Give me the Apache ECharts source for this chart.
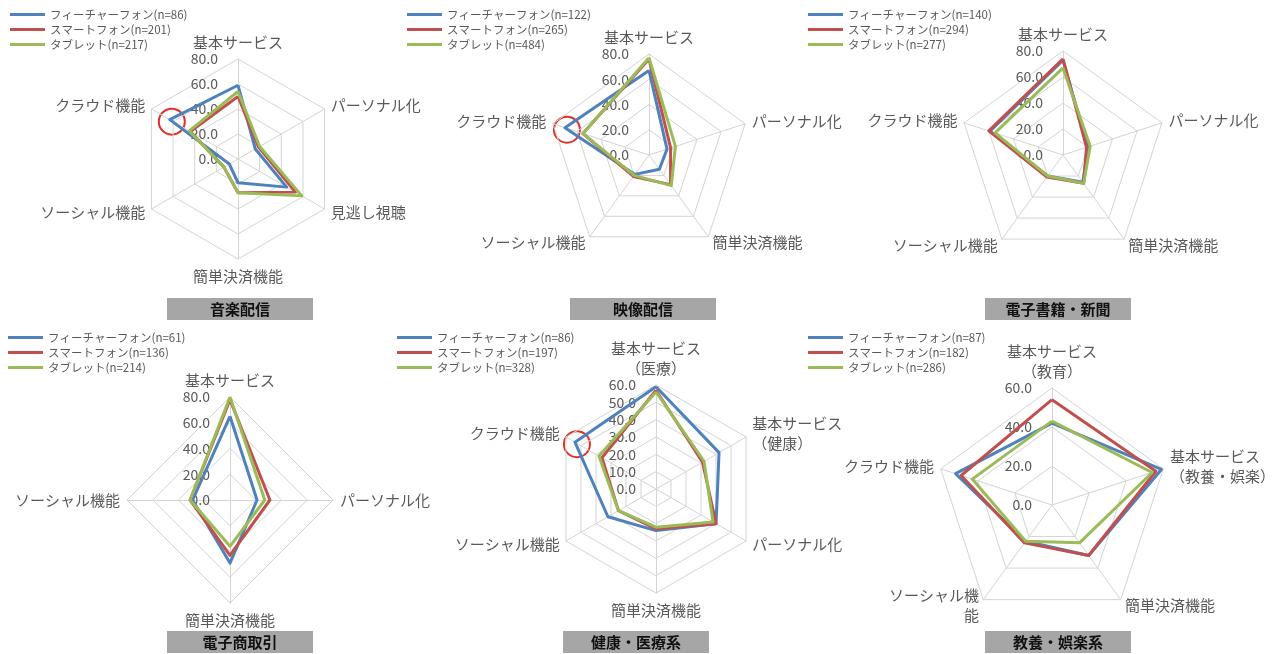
<!DOCTYPE html>
<html>
<head>
<meta charset="utf-8">
<script src="https://cdn.jsdelivr.net/npm/echarts@6/dist/echarts.min.js"></script>
<style>
html, body { margin: 0; padding: 0; background: #fff; }
#main { width: 1275px; height: 654px; }
</style>
</head>
<body>
<div id="main"></div>
<script>
const FONT = '"Noto Sans CJK JP", "Noto Sans", sans-serif';
const seriesColors = ['#4F81BD', '#C0504D', '#9BBB59'];

// 軸は上から時計回りの順
// 音楽配信
const musicAxes = ['基本サービス', 'パーソナル化', '見逃し視聴', '簡単決済機能', 'ソーシャル機能', 'クラウド機能'];
const musicNames = ['フィーチャーフォン(n=86)', 'スマートフォン(n=201)', 'タブレット(n=217)'];
const musicFeature = [59, 16, 45, 19, 8, 63];
const musicSmart = [50, 19, 53, 27, 13, 44];
const musicTablet = [54, 20, 59, 27, 13, 45];

// 映像配信
const videoAxes = ['基本サービス', 'パーソナル化', '簡単決済機能', 'ソーシャル機能', 'クラウド機能'];
const videoNames = ['フィーチャーフォン(n=122)', 'スマートフォン(n=265)', 'タブレット(n=484)'];
const videoFeature = [67, 15, 14, 19, 70];
const videoSmart = [76, 18, 29, 21, 55];
const videoTablet = [77, 22, 30, 20, 55];

// 電子書籍・新聞
const bookAxes = ['基本サービス', 'パーソナル化', '簡単決済機能', 'ソーシャル機能', 'クラウド機能'];
const bookNames = ['フィーチャーフォン(n=140)', 'スマートフォン(n=294)', 'タブレット(n=277)'];
const bookFeature = [73, 20, 26, 20, 59];
const bookSmart = [74, 19, 27, 21, 60];
const bookTablet = [67, 22, 27, 20, 55];

// 電子商取引
const ecAxes = ['基本サービス', 'パーソナル化', '簡単決済機能', 'ソーシャル機能'];
const ecNames = ['フィーチャーフォン(n=61)', 'スマートフォン(n=136)', 'タブレット(n=214)'];
const ecFeature = [65, 21, 49, 29];
const ecSmart = [78, 31, 43, 31];
const ecTablet = [80, 27, 36, 31];

// 健康・医療系
const healthAxes = ['基本サービス\n（医療）', '基本サービス\n（健康）', 'パーソナル化', '簡単決済機能', 'ソーシャル機能', 'クラウド機能'];
const healthNames = ['フィーチャーフォン(n=86)', 'スマートフォン(n=197)', 'タブレット(n=328)'];
const healthFeature = [59, 42, 40, 24, 32, 54];
const healthSmart = [57, 31, 40, 23, 25, 36];
const healthTablet = [56, 32, 38, 22, 25, 38];

// 教養・娯楽系
const eduAxes = ['基本サービス\n（教育）', '基本サービス\n（教養・娯楽）', '簡単決済機能', 'ソーシャル機\n能', 'クラウド機能'];
const eduNames = ['フィーチャーフォン(n=87)', 'スマートフォン(n=182)', 'タブレット(n=286)'];
const eduFeature = [42, 59, 32, 23, 52];
const eduSmart = [54, 56, 32, 24, 49];
const eduTablet = [43, 54, 24, 23, 43];

const panels = [
    { title: '音楽配信', axes: musicAxes, names: musicNames, values: [musicFeature, musicSmart, musicTablet],
      max: 80, split: 4, center: [238, 159], radius: 100, legend: [10, 8], box: [167, 298], mark: true },
    { title: '映像配信', axes: videoAxes, names: videoNames, values: [videoFeature, videoSmart, videoTablet],
      max: 80, split: 4, center: [649, 155], radius: 101, legend: [407, 8], box: [570, 298], mark: true },
    { title: '電子書籍・新聞', axes: bookAxes, names: bookNames, values: [bookFeature, bookSmart, bookTablet],
      max: 80, split: 4, center: [1063, 155], radius: 104, legend: [808, 8], box: [985, 298], mark: false },
    { title: '電子商取引', axes: ecAxes, names: ecNames, values: [ecFeature, ecSmart, ecTablet],
      max: 80, split: 4, center: [230, 500], radius: 103, legend: [8, 331], box: [167, 631], mark: false },
    { title: '健康・医療系', axes: healthAxes, names: healthNames, values: [healthFeature, healthSmart, healthTablet],
      max: 60, split: 6, center: [656, 489], radius: 104, legend: [397, 331], box: [563, 631], mark: true },
    { title: '教養・娯楽系', axes: eduAxes, names: eduNames, values: [eduFeature, eduSmart, eduTablet],
      max: 60, split: 3, center: [1052, 505], radius: 117, legend: [808, 331], box: [985, 631], mark: false }
];

// ECharts のレーダーは反時計回りなので並びを変える
function toEchartsOrder(arr) {
    return [arr[0]].concat(arr.slice(1).reverse());
}

const radar = [];
const series = [];
const legend = [];
const graphic = [];

panels.forEach(function(p, idx) {
    const indicators = toEchartsOrder(p.axes).map(function(name, i) {
        const ind = { name: name, max: p.max, min: 0 };
        if (i === 0) ind.axisLabel = { show: true };
        return ind;
    });
    radar.push({
        center: p.center,
        radius: p.radius,
        startAngle: 90,
        splitNumber: p.split,
        shape: 'polygon',
        nameGap: 7,
        indicator: indicators,
        axisName: { color: '#595959', fontSize: 15, fontFamily: FONT, lineHeight: 20 },
        axisLabel: {
            show: false,
            margin: 20,
            color: '#595959',
            fontSize: 14,
            fontFamily: FONT,
            formatter: function(v) { return v.toFixed(1); }
        },
        axisTick: { show: false },
        axisLine: { lineStyle: { color: '#d4d4d4', width: 1 } },
        splitLine: { lineStyle: { color: '#d4d4d4', width: 1 } },
        splitArea: { show: false }
    });
    // 描画順: フィーチャーフォン → スマートフォン → タブレット（後ろが上に重なる）
    series.push({
        type: 'radar',
        radarIndex: idx,
        symbol: 'none',
        silent: true,
        data: p.values.map(function(vals, k) {
            return {
                name: p.names[k],
                value: toEchartsOrder(vals),
                lineStyle: { color: seriesColors[k], width: 3 },
                itemStyle: { color: seriesColors[k] }
            };
        })
    });
    legend.push({
        orient: 'vertical',
        left: p.legend[0],
        top: p.legend[1],
        padding: 0,
        itemGap: 2,
        itemWidth: 35,
        itemHeight: 3,
        icon: 'rect',
        selectedMode: false,
        data: p.names,
        textStyle: { color: '#595959', fontSize: 11.5, fontFamily: FONT, lineHeight: 13 }
    });
    // タイトルの箱
    graphic.push({
        type: 'group',
        silent: true,
        children: [
            { type: 'rect', shape: { x: p.box[0], y: p.box[1], width: 146, height: 22 }, style: { fill: '#a6a6a6' } },
            { type: 'text', style: { text: p.title, x: p.box[0] + 73, y: p.box[1] + 11, align: 'center', verticalAlign: 'middle',
                font: 'bold 15px ' + FONT, fill: '#111' } }
        ]
    });
    // クラウド機能のフィーチャーフォン値を赤丸で強調
    if (p.mark) {
        const n = p.axes.length;
        const cloud = p.values[0][n - 1];
        const a = (90 + 360 / n) * Math.PI / 180;
        const r = cloud / p.max * p.radius;
        graphic.push({
            type: 'circle',
            silent: true,
            shape: { cx: p.center[0] + r * Math.cos(a) + 2, cy: p.center[1] - r * Math.sin(a) + 2, r: 13 },
            style: { fill: 'none', stroke: '#e0302a', lineWidth: 2 }
        });
    }
});

const chart = echarts.init(document.getElementById('main'));
chart.setOption({
    backgroundColor: '#fff',
    animation: false,
    textStyle: { fontFamily: FONT },
    legend: legend,
    radar: radar,
    series: series,
    graphic: graphic
});
</script>
</body>
</html>
